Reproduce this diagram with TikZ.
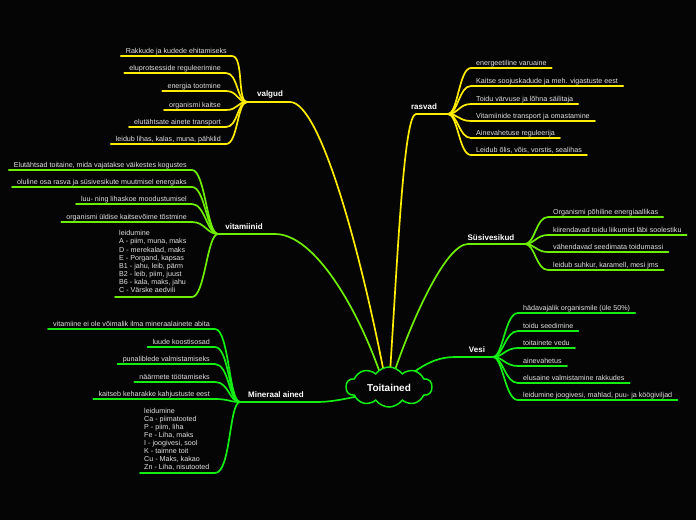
\documentclass[tikz,border=0pt]{standalone}
\usepackage{fontspec}
\setmainfont{Liberation Sans}
\usetikzlibrary{shapes.symbols,calc}
\definecolor{bg}{RGB}{5,5,5}
\definecolor{cyel}{RGB}{255,236,0}
\definecolor{clime}{RGB}{110,238,0}
\definecolor{cgrn}{RGB}{20,238,20}
\definecolor{ctxt}{RGB}{225,225,225}
\begin{document}
\begin{tikzpicture}[x=1pt,y=-1pt,
  lt/.style={font=\fontsize{7.15}{8.1}\selectfont, text=ctxt, inner xsep=5pt, inner ysep=0pt},
  ml/.style={font=\fontsize{7.15}{8.1}\selectfont, text=ctxt, inner sep=0pt, align=left, anchor=north west},
  bl/.style={font=\bfseries\fontsize{8}{9}\selectfont, text=white, inner sep=0pt, anchor=base},
  ln/.style={line width=1.7pt, line cap=round}]
\fill[bg] (0,0) rectangle (696,520);
\useasboundingbox (0,0) rectangle (696,520);

% attachment points on the central cloud
\coordinate (aV) at (384,373);
\coordinate (aR) at (390,373);
\coordinate (aT) at (380,373);
\coordinate (aS) at (394,373);
\coordinate (aW) at (414,372);
\coordinate (aM) at (359,396);

% ---------------- valgud ----------------
\coordinate (vh) at (247,102);
\coordinate (vk) at (290,102);
\node[bl] (vL) at (270,96.5) {valgud};
\draw[ln,cyel] (aV) .. controls (360,250) and (320,102) .. (vk) -- (vh);
\coordinate (v1c) at (232,56);
\node[lt,anchor=base east] (v1) at (232,53.5) {Rakkude ja kudede ehitamiseks};
\draw[ln,cyel] (v1.west |- v1c) -- (v1c) .. controls +(12,0) and +(-10,0) .. (vh);
\coordinate (v2c) at (226,73);
\node[lt,anchor=base east] (v2) at (226,70.5) {eluprotsesside reguleerimine};
\draw[ln,cyel] (v2.west |- v2c) -- (v2c) .. controls +(12,0) and +(-10,0) .. (vh);
\coordinate (v3c) at (226,91);
\node[lt,anchor=base east] (v3) at (226,88.5) {energia tootmine};
\draw[ln,cyel] (v3.west |- v3c) -- (v3c) .. controls +(12,0) and +(-10,0) .. (vh);
\coordinate (v4c) at (226,110);
\node[lt,anchor=base east] (v4) at (226,107.5) {organismi kaitse};
\draw[ln,cyel] (v4.west |- v4c) -- (v4c) .. controls +(12,0) and +(-10,0) .. (vh);
\coordinate (v5c) at (226,127);
\node[lt,anchor=base east] (v5) at (226,124.5) {elutähtsate ainete transport};
\draw[ln,cyel] (v5.west |- v5c) -- (v5c) .. controls +(12,0) and +(-10,0) .. (vh);
\coordinate (v6c) at (226,144);
\node[lt,anchor=base east] (v6) at (226,141.5) {leidub lihas, kalas, muna, pähklid};
\draw[ln,cyel] (v6.west |- v6c) -- (v6c) .. controls +(12,0) and +(-10,0) .. (vh);

% ---------------- rasvad ----------------
\coordinate (rh) at (448,114);
\coordinate (rk) at (416,114);
\node[bl] (rL) at (424,109) {rasvad};
\draw[ln,cyel] (aR) .. controls (398,250) and (404,114) .. (rk) -- (rh);
\coordinate (r1c) at (471,68);
\node[lt,anchor=base west] (r1) at (471,65.5) {energeetiline varuaine};
\draw[ln,cyel] (rh) .. controls +(10,0) and +(-12,0) .. (r1c) -- (r1c -| r1.east);
\coordinate (r2c) at (471,86);
\node[lt,anchor=base west] (r2) at (471,83.5) {Kaitse soojuskadude ja meh. vigastuste eest};
\draw[ln,cyel] (rh) .. controls +(10,0) and +(-12,0) .. (r2c) -- (r2c -| r2.east);
\coordinate (r3c) at (471,104);
\node[lt,anchor=base west] (r3) at (471,101.5) {Toidu värvuse ja lõhna säilitaja};
\draw[ln,cyel] (rh) .. controls +(10,0) and +(-12,0) .. (r3c) -- (r3c -| r3.east);
\coordinate (r4c) at (471,121);
\node[lt,anchor=base west] (r4) at (471,118.5) {Vitamiinide transport ja omastamine};
\draw[ln,cyel] (rh) .. controls +(10,0) and +(-12,0) .. (r4c) -- (r4c -| r4.east);
\coordinate (r5c) at (471,138);
\node[lt,anchor=base west] (r5) at (471,135.5) {Ainevahetuse reguleerija};
\draw[ln,cyel] (rh) .. controls +(10,0) and +(-12,0) .. (r5c) -- (r5c -| r5.east);
\coordinate (r6c) at (471,155);
\node[lt,anchor=base west] (r6) at (471,152.5) {Leidub õlis, võis, vorstis, sealihas};
\draw[ln,cyel] (rh) .. controls +(10,0) and +(-12,0) .. (r6c) -- (r6c -| r6.east);

% ---------------- vitamiinid ----------------
\coordinate (th) at (218,234);
\coordinate (tk) at (275,234);
\node[bl] (tL) at (244,229) {vitamiinid};
\draw[ln,clime] (aT) .. controls (358,310) and (315,234) .. (tk) -- (th);
\coordinate (t1c) at (192,170);
\node[lt,anchor=base east] (t1) at (192,167.5) {Elutähtsad toitaine, mida vajatakse väikestes kogustes};
\draw[ln,clime] (t1.west |- t1c) -- (t1c) .. controls +(13,0) and +(-11,0) .. (th);
\coordinate (t2c) at (192,187);
\node[lt,anchor=base east] (t2) at (192,184.5) {oluline osa rasva ja süsivesikute muutmisel energiaks};
\draw[ln,clime] (t2.west |- t2c) -- (t2c) .. controls +(13,0) and +(-11,0) .. (th);
\coordinate (t3c) at (192,204);
\node[lt,anchor=base east] (t3) at (192,201.5) {luu- ning lihaskoe moodustumisel};
\draw[ln,clime] (t3.west |- t3c) -- (t3c) .. controls +(13,0) and +(-11,0) .. (th);
\coordinate (t4c) at (192,222);
\node[lt,anchor=base east] (t4) at (192,219.5) {organismi üldise kaitsevõime tõstmine};
\draw[ln,clime] (t4.west |- t4c) -- (t4c) .. controls +(13,0) and +(-11,0) .. (th);
\node[ml] (t5) at (119,230.5) {leidumine\\A - piim, muna, maks\\D - merekalad, maks\\E - Porgand, kapsas\\B1 - jahu, leib, pärm\\B2 - leib, piim, juust\\B6 - kala, maks, jahu\\C - Värske aedvili};
\coordinate (t5s) at (115,297);
\coordinate (t5c) at (192,297);
\draw[ln,clime] (t5s) -- (t5c) .. controls +(13,0) and +(-11,0) .. (th);

% ---------------- Süsivesikud ----------------
\coordinate (sh) at (525,244);
\coordinate (sk) at (468,244);
\node[bl] (sL) at (491,240) {Süsivesikud};
\draw[ln,clime] (aS) .. controls (410,325) and (445,244) .. (sk) -- (sh);
\coordinate (s1c) at (548,217);
\node[lt,anchor=base west] (s1) at (548,214.5) {Organismi põhiline energiaallikas};
\draw[ln,clime] (sh) .. controls +(10,0) and +(-12,0) .. (s1c) -- (s1c -| s1.east);
\coordinate (s2c) at (548,235);
\node[lt,anchor=base west] (s2) at (548,232.5) {kiirendavad toidu liikumist läbi soolestiku};
\draw[ln,clime] (sh) .. controls +(10,0) and +(-12,0) .. (s2c) -- (s2c -| s2.east);
\coordinate (s3c) at (548,252);
\node[lt,anchor=base west] (s3) at (548,249.5) {vähendavad seedimata toidumassi};
\draw[ln,clime] (sh) .. controls +(10,0) and +(-12,0) .. (s3c) -- (s3c -| s3.east);
\coordinate (s4c) at (548,270);
\node[lt,anchor=base west] (s4) at (548,267.5) {leidub suhkur, karamell, mesi jms};
\draw[ln,clime] (sh) .. controls +(10,0) and +(-12,0) .. (s4c) -- (s4c -| s4.east);

% ---------------- Vesi ----------------
\coordinate (wh) at (493,357);
\coordinate (wk) at (455,357);
\node[bl] (wL) at (477,352.5) {Vesi};
\draw[ln,cgrn] (aW) .. controls (428,362) and (440,357) .. (wk) -- (wh);
\coordinate (w1c) at (518,313);
\node[lt,anchor=base west] (w1) at (518,310.5) {hädavajalik organismile (üle 50\%)};
\draw[ln,cgrn] (wh) .. controls +(10,0) and +(-13,0) .. (w1c) -- (w1c -| w1.east);
\coordinate (w2c) at (518,331);
\node[lt,anchor=base west] (w2) at (518,328.5) {toidu seedimine};
\draw[ln,cgrn] (wh) .. controls +(10,0) and +(-13,0) .. (w2c) -- (w2c -| w2.east);
\coordinate (w3c) at (518,348);
\node[lt,anchor=base west] (w3) at (518,345.5) {toitainete vedu};
\draw[ln,cgrn] (wh) .. controls +(10,0) and +(-13,0) .. (w3c) -- (w3c -| w3.east);
\coordinate (w4c) at (518,366);
\node[lt,anchor=base west] (w4) at (518,363.5) {ainevahetus};
\draw[ln,cgrn] (wh) .. controls +(10,0) and +(-13,0) .. (w4c) -- (w4c -| w4.east);
\coordinate (w5c) at (518,383);
\node[lt,anchor=base west] (w5) at (518,380.5) {elusaine valmistamine rakkudes};
\draw[ln,cgrn] (wh) .. controls +(10,0) and +(-13,0) .. (w5c) -- (w5c -| w5.east);
\coordinate (w6c) at (518,400);
\node[lt,anchor=base west] (w6) at (518,397.5) {leidumine joogivesi, mahlad, puu- ja köögiviljad};
\draw[ln,cgrn] (wh) .. controls +(10,0) and +(-13,0) .. (w6c) -- (w6c -| w6.east);

% ---------------- Mineraal ained ----------------
\coordinate (mh) at (240,402);
\coordinate (mk) at (315,402);
\node[bl] (mL) at (276,397) {Mineraal ained};
\draw[ln,cgrn] (aM) .. controls (340,400) and (330,402) .. (mk) -- (mh);
\coordinate (m1c) at (215,329);
\node[lt,anchor=base east] (m1) at (215,326.5) {vitamiine ei ole võimalik ilma mineraalainete abita};
\draw[ln,cgrn] (m1.west |- m1c) -- (m1c) .. controls +(14,0) and +(-11,0) .. (mh);
\coordinate (m2c) at (215,347);
\node[lt,anchor=base east] (m2) at (215,344.5) {luude koostisosad};
\draw[ln,cgrn] (m2.west |- m2c) -- (m2c) .. controls +(14,0) and +(-11,0) .. (mh);
\coordinate (m3c) at (215,364);
\node[lt,anchor=base east] (m3) at (215,361.5) {punaliblede valmistamiseks};
\draw[ln,cgrn] (m3.west |- m3c) -- (m3c) .. controls +(14,0) and +(-11,0) .. (mh);
\coordinate (m4c) at (215,382);
\node[lt,anchor=base east] (m4) at (215,379.5) {näärmete töötamiseks};
\draw[ln,cgrn] (m4.west |- m4c) -- (m4c) .. controls +(14,0) and +(-11,0) .. (mh);
\coordinate (m5c) at (215,399);
\node[lt,anchor=base east] (m5) at (215,396.5) {kaitseb keharakke kahjustuste eest};
\draw[ln,cgrn] (m5.west |- m5c) -- (m5c) .. controls +(14,0) and +(-11,0) .. (mh);
\node[ml] (m6) at (144,407.8) {leidumine\\Ca - piimatooted\\P - piim, liha\\Fe - Liha, maks\\I - joogivesi, sool\\K - taimne toit\\Cu - Maks, kakao\\Zn - Liha, nisutooted};
\coordinate (m6s) at (140,473);
\coordinate (m6c) at (215,473);
\draw[ln,cgrn] (m6s) -- (m6c) .. controls +(16,0) and +(-11,0) .. (mh);

% ---------------- centre ----------------
\node[cloud, cloud puffs=10, cloud puff arc=110, aspect=2.2, draw=cgrn, line width=1.5pt, fill=bg,
      minimum width=86pt, minimum height=40pt, inner sep=0pt] (ctr) at (389,387) {};
\node[font=\bfseries\fontsize{10}{12}\selectfont, text=white, inner sep=0pt] (ttl) at (389,388) {Toitained};
\end{tikzpicture}
\end{document}
